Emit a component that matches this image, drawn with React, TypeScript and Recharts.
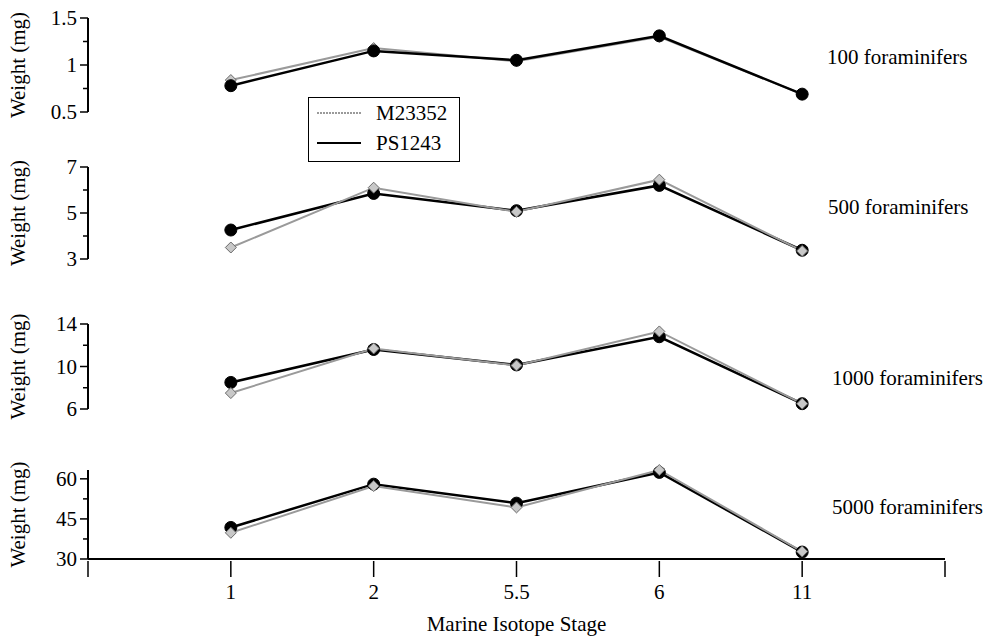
import React from "react";
import { LineChart, Line, XAxis, YAxis, Label } from "recharts";

const stages = ["1", "2", "5.5", "6", "11"];

const m23352_100 = [0.84, 1.18, 1.04, 1.3, 0.69];
const ps1243_100 = [0.78, 1.15, 1.05, 1.31, 0.69];

const m23352_500 = [3.5, 6.1, 5.05, 6.45, 3.35];
const ps1243_500 = [4.26, 5.85, 5.1, 6.2, 3.38];

const m23352_1000 = [7.5, 11.7, 10.1, 13.3, 6.5];
const ps1243_1000 = [8.5, 11.6, 10.15, 12.8, 6.5];

const m23352_5000 = [39.8, 57.3, 49.3, 63.3, 32.8];
const ps1243_5000 = [41.8, 58, 50.9, 62.4, 32.6];

const FONT = "Liberation Serif";
const FS = 21;
const GREY = "#9a9a9a";

function rows(grey: number[], black: number[]) {
  return stages.map((s, i) => ({ idx: i + 1, stage: s, m: grey[i], p: black[i] }));
}

const BlackDot = (props: any) => {
  const { cx, cy, index } = props;
  return <circle key={index} cx={cx} cy={cy} r={6} fill="#000" stroke="#000" />;
};

const GreyDiamond = (props: any) => {
  const { cx, cy, index } = props;
  const s = 5.5;
  return (
    <polygon
      key={index}
      points={`${cx},${cy - s} ${cx + s},${cy} ${cx},${cy + s} ${cx - s},${cy}`}
      fill="#c8c8c8"
      stroke="#6a6a6a"
      strokeWidth={1}
    />
  );
};

function makeYTick(majors: number[]) {
  return (props: any) => {
    const { x, y, payload } = props;
    const major = majors.includes(payload.value);
    return (
      <g>
        <line x1={x - (major ? 8 : 5)} x2={x} y1={y} y2={y} stroke="#000" strokeWidth={1.5} />
        {major && (
          <text x={x - 11} y={y} dy={7} textAnchor="end" fontSize={FS} fontFamily={FONT} fill="#000">
            {String(payload.value)}
          </text>
        )}
      </g>
    );
  };
}

const XTick = (props: any) => {
  const { x, y, payload } = props;
  const v = payload.value;
  return (
    <g>
      <line x1={x} x2={x} y1={y} y2={y + 16} stroke="#000" strokeWidth={1.5} />
      {v >= 1 && v <= 5 && (
        <text x={x} y={y + 38} textAnchor="middle" fontSize={FS} fontFamily={FONT} fill="#000">
          {stages[v - 1]}
        </text>
      )}
    </g>
  );
};

const yLabel = (props: any) => {
  const { viewBox } = props;
  const cy = viewBox.y + viewBox.height / 2;
  return (
    <text
      x={18}
      y={cy}
      transform={`rotate(-90, 18, ${cy})`}
      textAnchor="middle"
      dominantBaseline="central"
      fontSize={FS}
      fontFamily={FONT}
      fill="#000"
    >
      Weight (mg)
    </text>
  );
};

interface PanelProps {
  top: number;
  mTop: number;
  plotH: number;
  domain: [number, number];
  ticks: number[];
  majors: number[];
  grey: number[];
  black: number[];
  blackOnTop?: boolean;
  showX?: boolean;
}

function Panel({ top, mTop, plotH, domain, ticks, majors, grey, black, blackOnTop, showX }: PanelProps) {
  const xH = showX ? 80 : 0;
  const height = mTop + plotH + xH + (showX ? 0 : 18);
  const data = rows(grey, black);
  const greyLine = (
    <Line
      key="m"
      type="linear"
      dataKey="m"
      stroke={GREY}
      strokeWidth={2}
      dot={GreyDiamond}
      activeDot={false}
      isAnimationActive={false}
    />
  );
  const blackLine = (
    <Line
      key="p"
      type="linear"
      dataKey="p"
      stroke="#000"
      strokeWidth={2.5}
      dot={BlackDot}
      activeDot={false}
      isAnimationActive={false}
    />
  );
  return (
    <div style={{ position: "absolute", left: 0, top }}>
      <LineChart
        width={987}
        height={height}
        data={data}
        margin={{ top: mTop, right: 42, bottom: showX ? 0 : 18, left: 0 }}
      >
        <XAxis
          type="number"
          dataKey="idx"
          domain={[0, 6]}
          ticks={[0, 1, 2, 3, 4, 5, 6]}
          hide={!showX}
          height={xH}
          tickSize={0}
          tickLine={false}
          tick={XTick}
          axisLine={{ stroke: "#000", strokeWidth: 2 }}
        >
          <Label
            value="Marine Isotope Stage"
            position="insideBottom"
            offset={8}
            style={{ fontSize: FS, fontFamily: FONT, fill: "#000" }}
          />
        </XAxis>
        <YAxis
          type="number"
          domain={domain}
          ticks={ticks}
          width={88}
          tickSize={0}
          tickMargin={0}
          tickLine={false}
          tick={makeYTick(majors)}
          axisLine={{ stroke: "#000", strokeWidth: 2 }}
          interval={0}
        >
          <Label content={yLabel} />
        </YAxis>
        {blackOnTop ? [greyLine, blackLine] : [blackLine, greyLine]}
      </LineChart>
    </div>
  );
}

const panelLabel = (text: string, left: number, top: number) => (
  <div
    style={{
      position: "absolute",
      left,
      top,
      fontSize: FS,
      fontFamily: FONT,
      whiteSpace: "nowrap",
      lineHeight: "20px",
    }}
  >
    {text}
  </div>
);

export default function App() {
  return (
    <div
      style={{
        position: "absolute",
        left: 0,
        top: 0,
        width: 987,
        height: 639,
        background: "#fff",
        overflow: "hidden",
        fontFamily: FONT,
      }}
    >
      <Panel
        top={0}
        mTop={18}
        plotH={94}
        domain={[0.5, 1.5]}
        ticks={[0.5, 0.75, 1, 1.25, 1.5]}
        majors={[0.5, 1, 1.5]}
        grey={m23352_100}
        black={ps1243_100}
        blackOnTop
      />
      <Panel
        top={150}
        mTop={17}
        plotH={92}
        domain={[3, 7]}
        ticks={[3, 4, 5, 6, 7]}
        majors={[3, 5, 7]}
        grey={m23352_500}
        black={ps1243_500}
      />
      <Panel
        top={305}
        mTop={19}
        plotH={85}
        domain={[6, 14]}
        ticks={[6, 8, 10, 12, 14]}
        majors={[6, 10, 14]}
        grey={m23352_1000}
        black={ps1243_1000}
      />
      <Panel
        top={450}
        mTop={20}
        plotH={89}
        domain={[30, 60]}
        ticks={[30, 37.5, 45, 52.5, 60]}
        majors={[30, 45, 60]}
        grey={m23352_5000}
        black={ps1243_5000}
        showX
      />
      {panelLabel("100 foraminifers", 827, 47)}
      {panelLabel("500 foraminifers", 828, 197)}
      {panelLabel("1000 foraminifers", 832, 368)}
      {panelLabel("5000 foraminifers", 832, 497)}
      <div
        style={{
          position: "absolute",
          left: 308,
          top: 97,
          width: 150,
          height: 63,
          border: "1.5px solid #000",
          background: "#fff",
        }}
      >
        <svg width={150} height={63} style={{ position: "absolute", left: 0, top: 0 }}>
          <line x1={8} x2={52} y1={15} y2={15} stroke={GREY} strokeWidth={2} strokeDasharray="2 1" />
          <line x1={8} x2={52} y1={45} y2={45} stroke="#000" strokeWidth={2} />
          <text x={67} y={22} fontSize={FS} fontFamily={FONT} fill="#000">
            M23352
          </text>
          <text x={67} y={52} fontSize={FS} fontFamily={FONT} fill="#000">
            PS1243
          </text>
        </svg>
      </div>
    </div>
  );
}
